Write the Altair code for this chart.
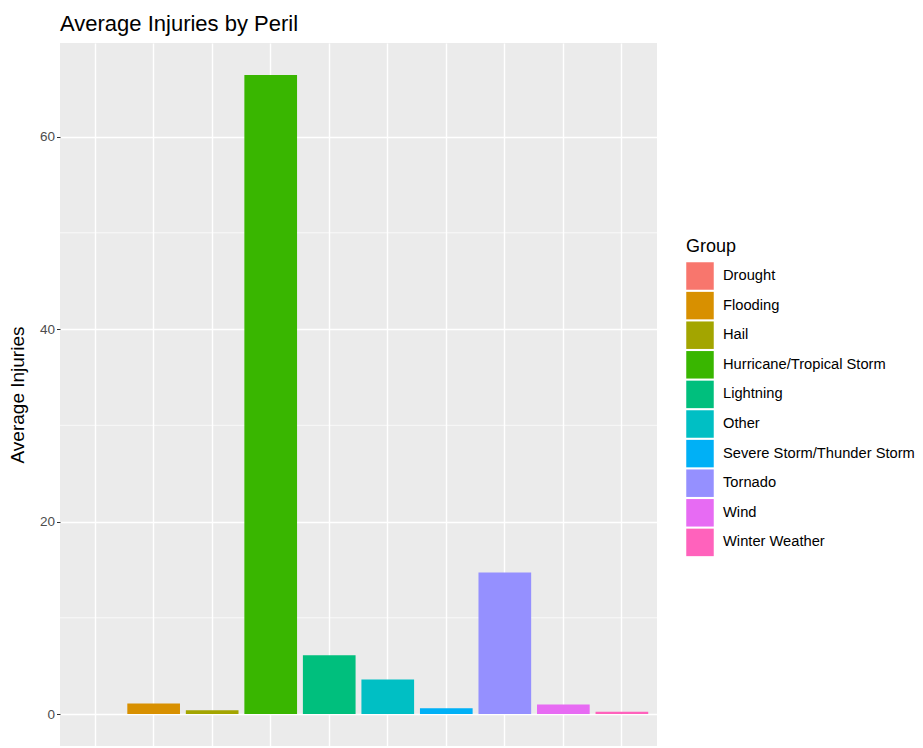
import altair as alt
import pandas as pd

groups = ["Drought", "Flooding", "Hail", "Hurricane/Tropical Storm", "Lightning",
          "Other", "Severe Storm/Thunder Storm", "Tornado", "Wind", "Winter Weather"]
avg_injuries = [0.0, 1.1, 0.4, 66.4, 6.1, 3.6, 0.6, 14.7, 1.0, 0.25]
palette = ["#F8766D", "#D89000", "#A3A500", "#39B600", "#00BF7D",
           "#00BFC4", "#00B0F6", "#9590FF", "#E76BF3", "#FF62BC"]
major_breaks = [0, 20, 40, 60]
minor_breaks = [10, 30, 50]

FONT = "Liberation Sans"

df = pd.DataFrame({"Group": groups, "avg": avg_injuries})
minor = pd.DataFrame({"avg": minor_breaks})

# ggplot-like 5% expansion of the y range
y_scale = alt.Scale(domain=[-3.32, 69.72], nice=False, zero=False)
y_axis = alt.Axis(values=major_breaks, grid=True, gridColor="white", gridWidth=1.4,
                  domain=False, tickColor="#333333", tickSize=3.5, tickWidth=1,
                  labelColor="#4D4D4D", labelFontSize=13.5, labelFont=FONT,
                  labelPadding=2, titleFont=FONT, titleFontSize=19,
                  titleFontWeight="normal", titleColor="black", titlePadding=12)

minor_grid = alt.Chart(minor).mark_rule(color="white", strokeWidth=0.7).encode(
    y=alt.Y("avg:Q", scale=y_scale, title="Average Injuries", axis=y_axis),
)

bars = alt.Chart(df).mark_bar().encode(
    x=alt.X(
        "Group:N",
        sort=groups,
        title=None,
        scale=alt.Scale(paddingInner=0.1, paddingOuter=0.15),
        axis=alt.Axis(labels=False, ticks=False, domain=False, grid=True,
                      gridColor="white", gridWidth=1.4, bandPosition=0.5),
    ),
    y=alt.Y("avg:Q", scale=y_scale, title="Average Injuries", axis=y_axis),
    color=alt.Color(
        "Group:N",
        scale=alt.Scale(domain=groups, range=palette),
        legend=alt.Legend(
            title="Group", orient="none", legendX=626, legendY=195,
            symbolType="square", symbolSize=756, symbolStrokeWidth=0,
            symbolOpacity=1, rowPadding=1.6, labelOffset=9, padding=0,
            labelLimit=400,
            titleFont=FONT, titleFontSize=18, titleFontWeight="normal",
            titleColor="black", titlePadding=6,
            labelFont=FONT, labelFontSize=14.7, labelColor="black",
        ),
    ),
)

chart = alt.layer(minor_grid, bars).properties(
    width=597,
    height=703,
    autosize=alt.AutoSizeParams(type="none"),
    padding={"left": 52, "top": 35, "right": 258, "bottom": 2},
    title=alt.Title("Average Injuries by Peril", anchor="start", frame="group",
                    fontSize=22, font=FONT, fontWeight="normal", color="black",
                    offset=7),
).configure_view(fill="#EBEBEB", stroke=None)

chart.save("out.html", embed_options={"renderer": "svg", "actions": False})
